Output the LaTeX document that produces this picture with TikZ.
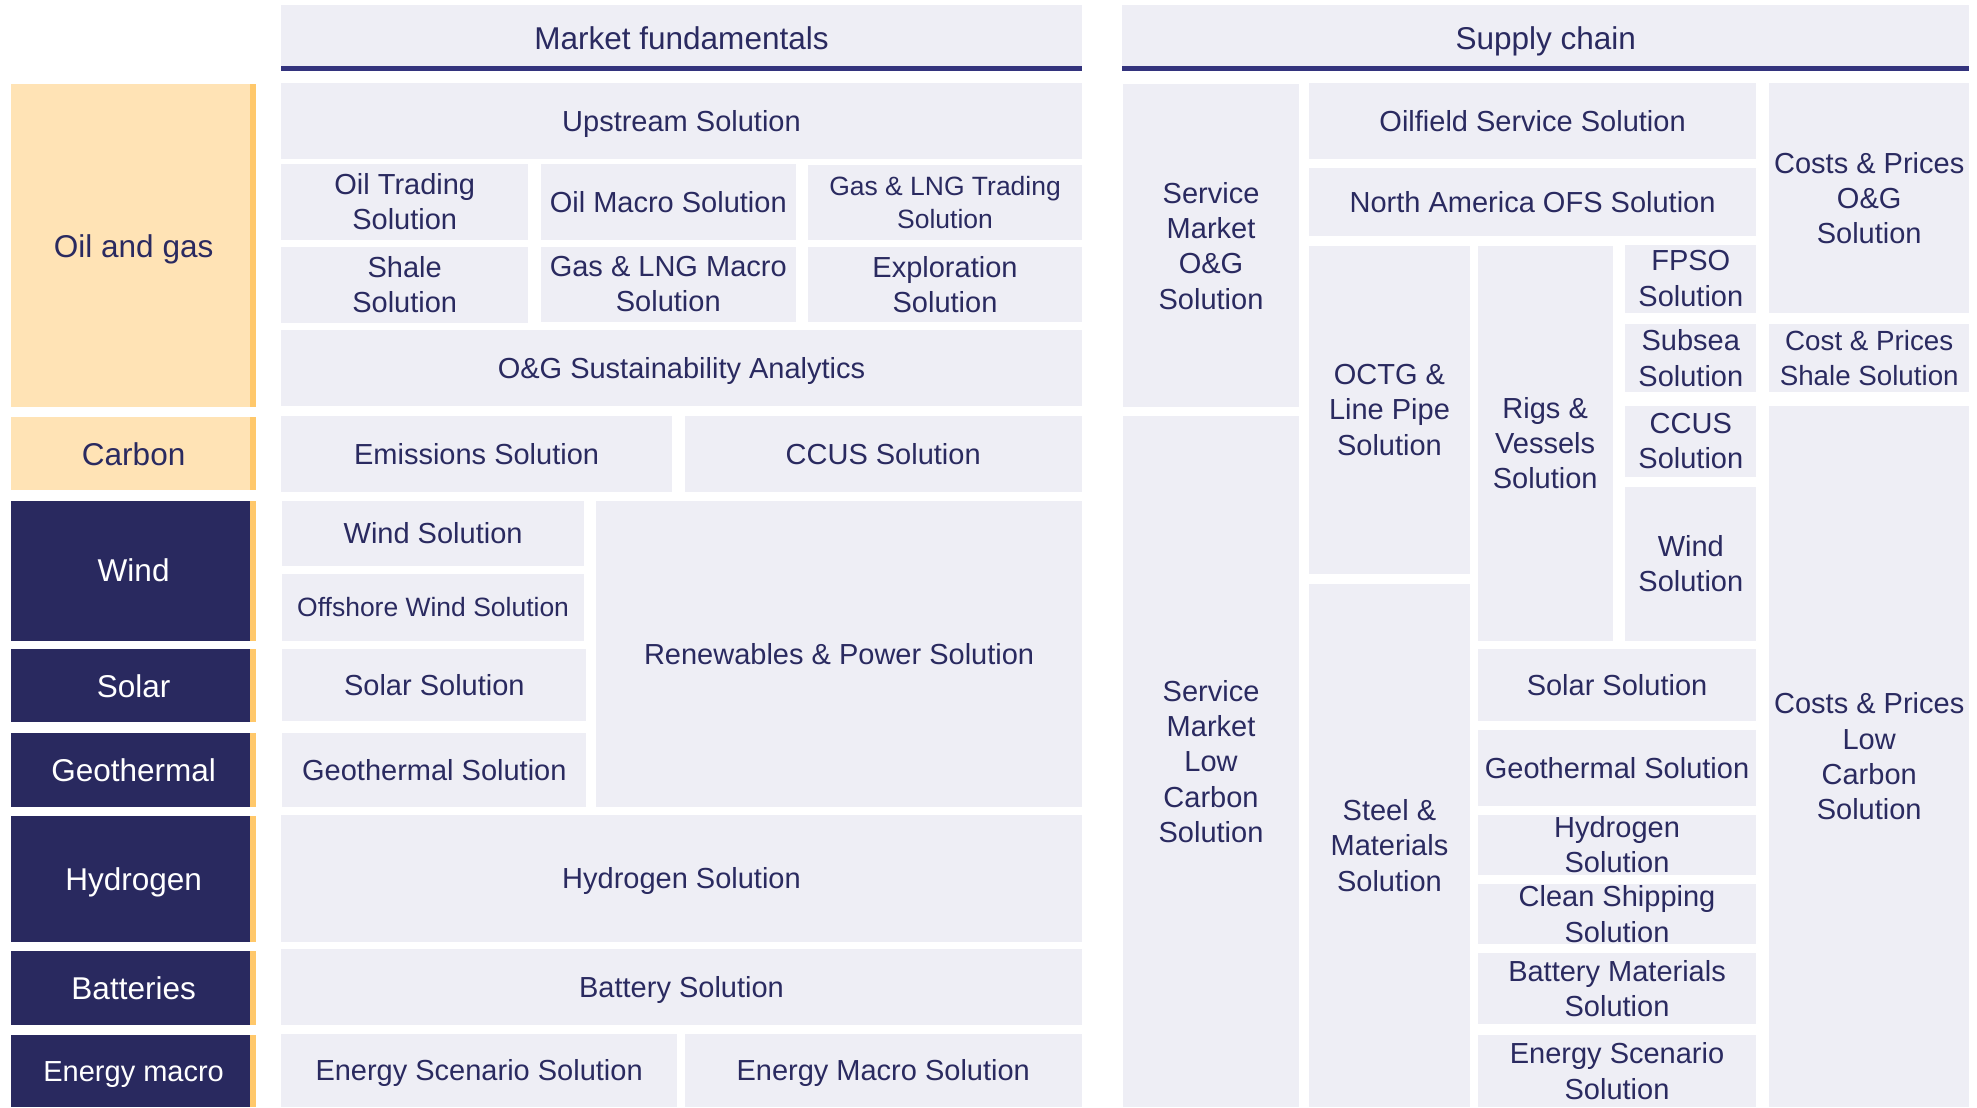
\documentclass[tikz,border=0pt]{standalone}
\usepackage{fontspec}
\setmainfont{Liberation Sans}
\usepackage{tikz}

\definecolor{tilegrey}{HTML}{EEEEF5}
\definecolor{navytext}{HTML}{2A2A60}
\definecolor{navy}{HTML}{29295F}
\definecolor{sand}{HTML}{FFE3B5}
\definecolor{amber}{HTML}{FFC86B}
\definecolor{rule}{HTML}{33337D}

\tikzstyle{tile}=[rectangle, fill=tilegrey, text=navytext, inner sep=0pt, align=center, font=\fontsize{23}{28}\selectfont]
\tikzstyle{small}=[font=\fontsize{21}{26}\selectfont]
\tikzstyle{nodepth}=[text depth=0pt]
\tikzstyle{header}=[tile, font=\fontsize{25}{30}\selectfont,
    path picture={\fill[rule] ([yshift=4pt]path picture bounding box.south west) rectangle (path picture bounding box.south east);}]
\tikzstyle{topic}=[tile, fill=sand, font=\fontsize{25}{30}\selectfont,
    path picture={\fill[amber] ([xshift=-5pt]path picture bounding box.north east) rectangle (path picture bounding box.south east);}]
\tikzstyle{darktopic}=[topic, fill=navy, text=white]
\tikzset{wh/.style 2 args={minimum width=#1pt, minimum height=#2pt}}

\begin{document}
\begin{tikzpicture}[x=1pt, y=-1pt]
\useasboundingbox (0,0) rectangle (1568,878);

% topics
\node[topic, nodepth, wh={194}{256}] (oilgas) at (106,195) {Oil and gas};
    \node[topic, wh={194}{58}] (carbon) at (106,360) {Carbon};
    \node[darktopic, wh={194}{111}] (wind) at (106,452.5) {Wind};
    \node[darktopic, wh={194}{58}] (solar) at (106,544) {Solar};
    \node[darktopic, wh={194}{59}] (geothermal) at (106,610.5) {Geothermal};
    \node[darktopic, nodepth, wh={194}{100}] (hydrogen) at (106,697) {Hydrogen};
    \node[darktopic, wh={194}{59}] (batteries) at (106,783.5) {Batteries};
    \node[darktopic, nodepth, font=\fontsize{23}{28}\selectfont, wh={194}{57}] (energymacro) at (106,849.5) {Energy macro};

% market fundamentals
\node[header, wh={635}{52}] (mfhead) at (540.5,30) {Market fundamentals};
    \node[tile, nodepth, wh={635}{60}] (upstream) at (540.5,96) {Upstream Solution};
    \node[tile, wh={196}{60}] (oiltrading) at (321,160) {Oil Trading\\Solution};
    \node[tile, wh={202}{60}] (oilmacro) at (530,160) {Oil Macro Solution};
    \node[tile, small, wh={217}{59}] (gastrading) at (749.5,160.5) {Gas \& LNG Trading\\Solution};
    \node[tile, wh={196}{60}] (shale) at (321,226) {Shale\\Solution};
    \node[tile, wh={202}{59}] (gasmacro) at (530,225.5) {Gas \& LNG Macro\\Solution};
    \node[tile, wh={217}{59}] (exploration) at (749.5,225.5) {Exploration\\Solution};
    \node[tile, nodepth, wh={635}{60}] (ogsustain) at (540.5,292) {O\&G Sustainability Analytics};
    \node[tile, wh={310}{60}] (emissions) at (378,360) {Emissions Solution};
    \node[tile, wh={315}{60}] (mfccus) at (700.5,360) {CCUS Solution};
    \node[tile, wh={239}{52}] (mfwind) at (343.5,423) {Wind Solution};
    \node[tile, small, wh={239}{53}] (offshore) at (343.5,481.5) {Offshore Wind Solution};
    \node[tile, wh={241}{57}] (mfsolar) at (344.5,543.5) {Solar Solution};
    \node[tile, wh={241}{59}] (mfgeo) at (344.5,610.5) {Geothermal Solution};
    \node[tile, wh={385}{243}] (renewables) at (665.5,518.5) {Renewables \& Power Solution};
    \node[tile, nodepth, wh={635}{101}] (mfhydrogen) at (540.5,696.5) {Hydrogen Solution};
    \node[tile, nodepth, wh={635}{60}] (battery) at (540.5,783) {Battery Solution};
    \node[tile, nodepth, wh={314}{58}] (mfscenario) at (380,849) {Energy Scenario Solution};
    \node[tile, nodepth, wh={315}{58}] (mfmacro) at (700.5,849) {Energy Macro Solution};

% supply chain
\node[header, nodepth, wh={672}{52}] (schead) at (1226,30) {Supply chain};
    \node[tile, wh={139}{256}] (svcog) at (960.5,195) {Service\\Market\\O\&G\\Solution};
    \node[tile, wh={139}{548}] (svclow) at (960.5,604) {Service\\Market\\Low\\Carbon\\Solution};
    \node[tile, wh={355}{60}] (oilfield) at (1215.5,96) {Oilfield Service Solution};
    \node[tile, wh={355}{54}] (naofs) at (1215.5,160) {North America OFS Solution};
    \node[tile, wh={128}{260}] (octg) at (1102,325) {OCTG \&\\Line Pipe\\Solution};
    \node[tile, wh={128}{415}] (steel) at (1102,670.5) {Steel \&\\Materials\\Solution};
    \node[tile, wh={107}{313}] (rigs) at (1225.5,351.5) {Rigs \&\\Vessels\\Solution};
    \node[tile, wh={104}{54}] (fpso) at (1341,221) {FPSO\\Solution};
    \node[tile, wh={104}{54}] (subsea) at (1341,284) {Subsea\\Solution};
    \node[tile, wh={104}{56}] (scccus) at (1341,350) {CCUS\\Solution};
    \node[tile, wh={104}{122}] (scwind) at (1341,447) {Wind\\Solution};
    \node[tile, wh={221}{57}] (scsolar) at (1282.5,543.5) {Solar Solution};
    \node[tile, wh={221}{60}] (scgeo) at (1282.5,609) {Geothermal Solution};
    \node[tile, wh={221}{48}] (schydrogen) at (1282.5,670) {Hydrogen\\Solution};
    \node[tile, wh={221}{48}] (shipping) at (1282.5,725) {Clean Shipping\\Solution};
    \node[tile, wh={221}{56}] (batterymat) at (1282.5,784) {Battery Materials\\Solution};
    \node[tile, wh={221}{57}] (scscenario) at (1282.5,849.5) {Energy Scenario\\Solution};
    \node[tile, wh={159}{182}] (costsog) at (1482.5,157) {Costs \& Prices\\O\&G\\Solution};
    \node[tile, font=\fontsize{22}{27}\selectfont, wh={159}{54}] (costsshale) at (1482.5,284) {Cost \& Prices\\Shale Solution};
    \node[tile, wh={159}{556}] (costslow) at (1482.5,600) {Costs \& Prices\\Low\\Carbon\\Solution};
\end{tikzpicture}
\end{document}
